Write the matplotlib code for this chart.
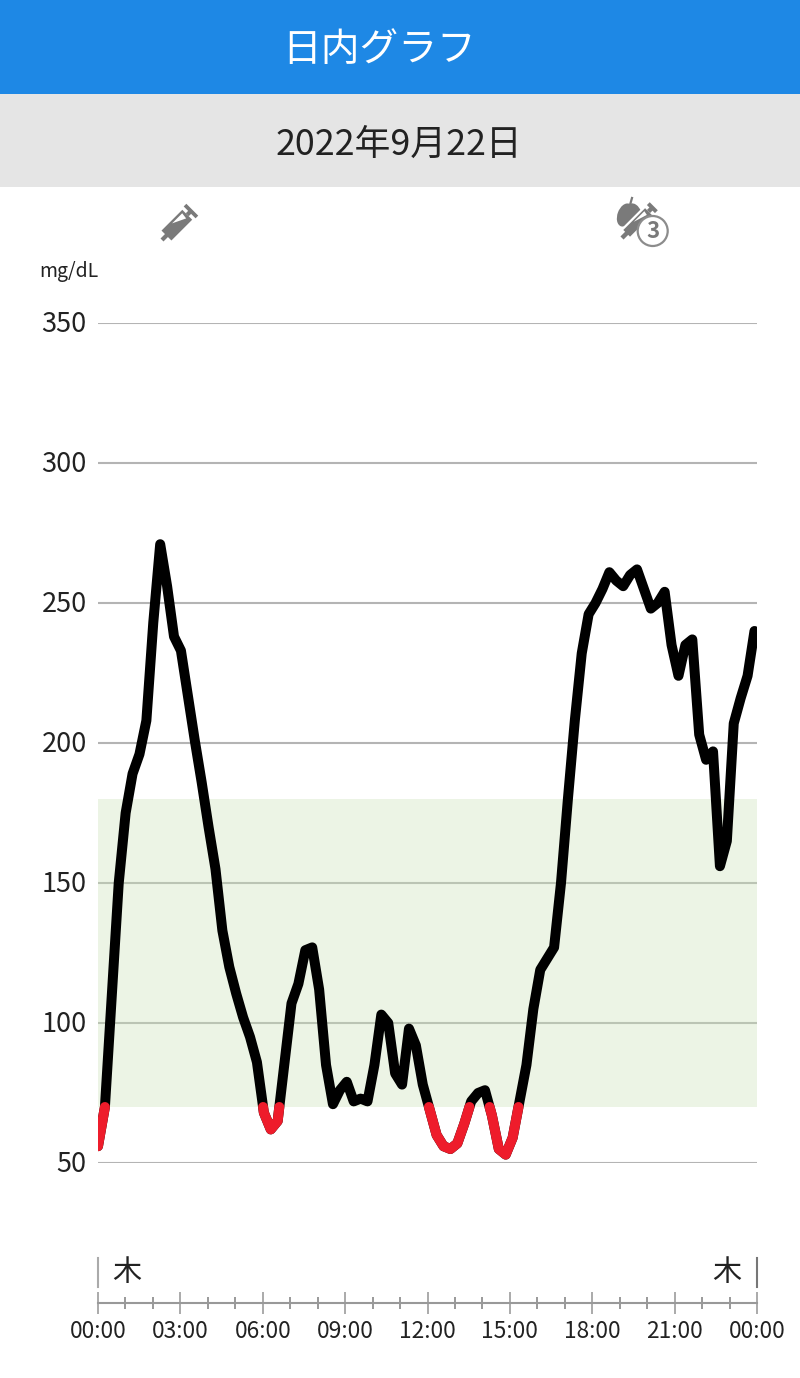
import matplotlib
matplotlib.use('Agg')
import matplotlib.pyplot as plt
import numpy as np
from matplotlib.patches import Circle, Ellipse, Polygon, Rectangle
from matplotlib.transforms import Affine2D, ScaledTranslation

plt.rcParams['font.family'] = ['Noto Sans CJK JP', 'DejaVu Sans']

title = '日内グラフ'
date_label = '2022年9月22日'
unit_label = 'mg/dL'
weekday = '木'
sample_minutes = 15.1

glucose = [56, 70, 110, 150, 175, 189, 196, 208, 243, 271,
           256, 238, 233, 217, 201, 186, 170, 155, 133, 120,
           110.5, 102, 95, 86, 68, 62, 65, 86, 107, 114,
           126, 127, 112, 85, 71, 76, 79, 72, 73, 72,
           85, 103, 100, 82, 78, 98, 92, 78, 69, 60,
           56, 55, 57, 64, 72, 75, 76, 67, 55, 53,
           59, 72, 85, 105, 119, 123, 127, 150, 180, 208,
           232, 246, 250, 255, 261, 258, 256, 260, 262, 255,
           248, 250, 254, 235, 224, 235, 237, 203, 194, 197,
           156, 165, 207, 216, 224, 240]
y_ticks = [50, 100, 150, 200, 250, 300, 350]
range_low = 70
range_high = 180
hour_major = [0, 3, 6, 9, 12, 15, 18, 21, 24]
hour_labels = ['00:00', '03:00', '06:00', '09:00', '12:00', '15:00', '18:00', '21:00', '00:00']
hour_minor = [1, 2, 4, 5, 7, 8, 10, 11, 13, 14, 16, 17, 19, 20, 22, 23]

W, H = 800, 1378
PX = 72 / 100  # points per pixel at dpi 100
ICON = '#7a7a7a'


def px_axes(fig, left, top, right, bottom, **kw):
    return fig.add_axes([left / W, 1 - bottom / H, (right - left) / W, (bottom - top) / H], **kw)


def draw_syringe(ax, tip, angle, k, width, z=3):
    """Syringe drawn along +x from the needle tip, then rotated into place."""
    w = width / 2
    tr = Affine2D().rotate_deg(angle).translate(*tip) + ax.transData
    # in y-down data coords +v of the local frame points down-right, so the glass window has v < 0
    ax.add_patch(Rectangle((0, -0.05 * k), 0.2 * k, 0.1 * k, color=ICON, transform=tr, lw=0, zorder=z))
    ax.add_patch(Rectangle((0.15 * k, -w), 0.7 * k, 2 * w, color=ICON, transform=tr, lw=0, zorder=z))
    ax.add_patch(Polygon([(0.45 * k, -w * 0.66), (0.79 * k, -w * 0.66), (0.77 * k, w * 0.26)], closed=True,
                         color='white', transform=tr, lw=0, zorder=z))
    ax.add_patch(Rectangle((0.85 * k, -0.05 * k), 0.1 * k, 0.10 * k, color=ICON, transform=tr, lw=0, zorder=z))
    ax.add_patch(Rectangle((0.93 * k, -w * 1.2), 0.09 * k, 2.4 * w, color=ICON, transform=tr, lw=0, zorder=z))


def split_low(x, y, limit):
    """Put a point on every crossing of limit, return the low part with gaps as NaN."""
    xs, ys = [x[0]], [y[0]]
    for i in range(1, len(x)):
        if (y[i - 1] - limit) * (y[i] - limit) < 0:
            xs.append(x[i - 1] + (limit - y[i - 1]) / (y[i] - y[i - 1]) * (x[i] - x[i - 1]))
            ys.append(limit)
        xs.append(x[i])
        ys.append(y[i])
    xs = np.array(xs)
    ys = np.array(ys, dtype=float)
    return xs, np.where(ys <= limit, ys, np.nan)


def main():
    fig = plt.figure(figsize=(W / 100, H / 100), dpi=100, facecolor='white')

    # header bands and icons live in a full figure pixel axes
    bg = px_axes(fig, 0, 0, W, H)
    bg.set_xlim(0, W)
    bg.set_ylim(H, 0)
    bg.axis('off')
    bg.add_patch(Rectangle((0, 0), W, 94, color='#1E88E5', lw=0))
    bg.add_patch(Rectangle((0, 94), W, 93, color='#E5E5E5', lw=0))
    bg.text(379, 50, title, color='white', fontsize=27.9, ha='center', va='center')
    bg.text(399, 145, date_label, color='#222222', fontsize=25.8, ha='center', va='center')
    bg.text(39, 272, unit_label, color='#222222', fontsize=14, ha='left', va='center')

    # first icon
    draw_syringe(bg, (162, 240), -45, 42, 14)

    # second icon: apple, syringe, circled 3
    bg.add_patch(Ellipse((625, 215), 15, 24, angle=20, color=ICON, lw=0, zorder=1))
    bg.add_patch(Ellipse((634, 214), 15, 22, angle=-20, color=ICON, lw=0, zorder=1))
    bg.plot([630, 632], [205, 198], color=ICON, lw=1.6, zorder=1)
    bg.plot([619, 657], [241, 203], color='white', lw=14 * PX, solid_capstyle='butt', zorder=2)
    draw_syringe(bg, (622, 238), -45, 44, 9.5)
    bg.add_patch(Circle((652.7, 231), 15, facecolor='white', edgecolor='#8c8c8c', lw=1.6, zorder=5))
    bg.text(652.7, 232, '3', color=ICON, fontsize=16, fontweight='bold', ha='center', va='center', zorder=6)

    # day marks
    bg.plot([98, 98], [1258, 1287], color='#aaaaaa', lw=1.5)
    bg.plot([757, 757], [1258, 1287], color='#777777', lw=1.5)
    bg.text(127, 1273, weekday, color='#222222', fontsize=21, ha='center', va='center')
    bg.text(727, 1273, weekday, color='#222222', fontsize=21, ha='center', va='center')

    # glucose chart
    ax = px_axes(fig, 98, 323, 757, 1163)
    ax.patch.set_alpha(0)
    hours = np.arange(len(glucose)) * sample_minutes / 60
    ax.set_xlim(0, 24)
    ax.set_ylim(50, 350)
    for side in ax.spines.values():
        side.set_visible(False)
    ax.set_xticks([])
    ax.set_yticks(y_ticks)
    ax.tick_params(axis='y', length=0, pad=8, labelsize=19.5, labelcolor='#222222')
    # labels sit slightly above their grid lines
    lift = ScaledTranslation(0, 2 / 100, fig.dpi_scale_trans)
    for label in ax.get_yticklabels():
        label.set_transform(label.get_transform() + lift)
    ax.grid(True, axis='y', color='#b4b4b4', lw=1.5, zorder=1)
    ax.set_axisbelow(True)
    ax.axhspan(range_low, range_high, facecolor=(201 / 255, 226 / 255, 181 / 255), alpha=0.35, lw=0, zorder=2)

    ax.plot(hours, glucose, color='black', lw=10 * PX, solid_joinstyle='round',
            solid_capstyle='round', zorder=3)
    low_x, low_y = split_low(hours, glucose, range_low)
    ax.plot(low_x, low_y, color='#EE1C2B', lw=10 * PX, solid_joinstyle='round',
            solid_capstyle='round', zorder=4)

    # time axis
    tx = px_axes(fig, 98, 1293, 757, 1303)
    tx.patch.set_alpha(0)
    tx.set_xlim(0, 24)
    tx.set_yticks([])
    for name in ('top', 'left', 'right'):
        tx.spines[name].set_visible(False)
    tx.spines['bottom'].set_color('#999999')
    tx.spines['bottom'].set_linewidth(1.5)
    tx.set_xticks(hour_major)
    tx.set_xticklabels(hour_labels)
    tx.set_xticks(hour_minor, minor=True)
    tx.tick_params(axis='x', which='major', direction='inout', length=22 * PX, width=1.4,
                   color='#aaaaaa', labelsize=16.4, labelcolor='#222222', pad=4.5)
    tx.tick_params(axis='x', which='minor', direction='inout', length=12 * PX, width=1.4, color='#999999')

    fig.savefig('out.png', dpi=100, facecolor='white')


if __name__ == '__main__':
    main()
